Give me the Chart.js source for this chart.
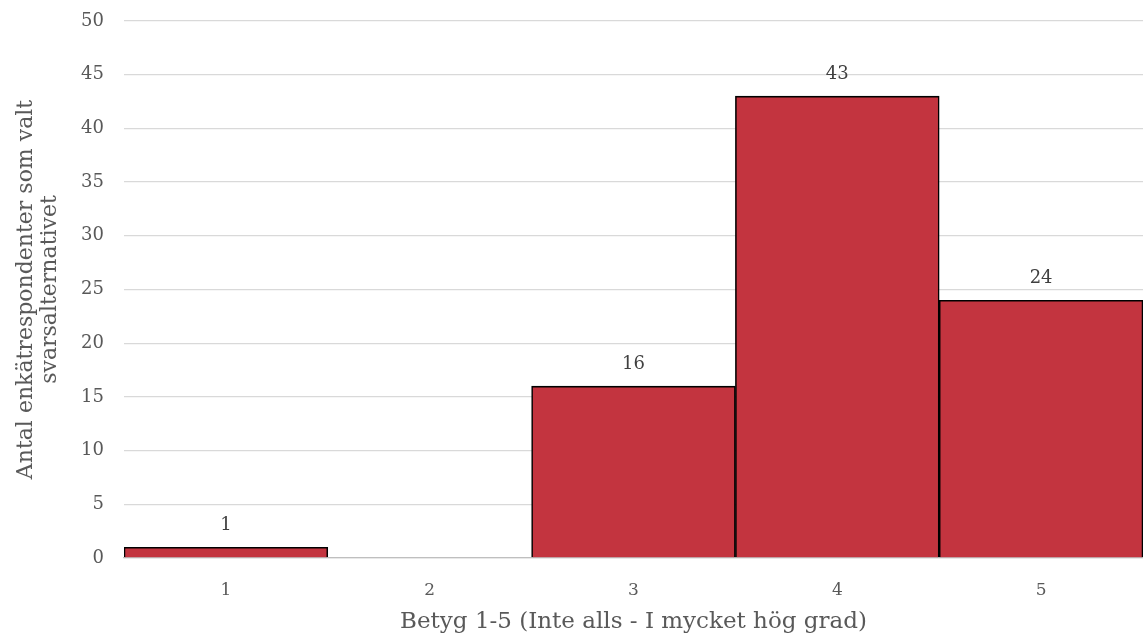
<!DOCTYPE html>
<html>
<head>
<meta charset="utf-8">
<script src="https://cdn.jsdelivr.net/npm/chart.js@4.4.1/dist/chart.umd.min.js"></script>
<style>
  html, body { margin: 0; padding: 0; background: #fff; }
  #wrap { width: 1143px; height: 641px; position: relative; }
</style>
</head>
<body>
<div id="wrap"><canvas id="gradeChart"></canvas></div>
<script>
// Survey answers per grade (1-5)
const grades = ['1', '2', '3', '4', '5'];
const counts = [1, 0, 16, 43, 24];
const yTicks = { min: 0, max: 50, step: 5 };

const FONT = "'DejaVu Serif', Georgia, serif";
const TEXT = '#595959';

// draws the count above each bar (empty bars get no label)
const barLabels = {
  id: 'barLabels',
  afterDatasetsDraw(chart) {
    const ctx = chart.ctx;
    const meta = chart.getDatasetMeta(0);
    ctx.save();
    ctx.font = '18px ' + FONT;
    ctx.fillStyle = '#404040';
    ctx.textAlign = 'center';
    ctx.textBaseline = 'middle';
    meta.data.forEach((bar, i) => {
      const v = counts[i];
      if (!v) return;
      ctx.fillText(String(v), bar.x, bar.y - 22);
    });
    ctx.restore();
  }
};

new Chart(document.getElementById('gradeChart'), {
  type: 'bar',
  data: {
    labels: grades,
    datasets: [{
      data: counts,
      backgroundColor: '#C3343F',
      borderColor: '#000000',
      borderWidth: 1.6,
      barPercentage: 1,
      categoryPercentage: 1
    }]
  },
  options: {
    responsive: true,
    maintainAspectRatio: false,
    animation: false,
    layout: { padding: { left: 14, top: 21, right: 0, bottom: 5 } },
    plugins: {
      legend: { display: false },
      tooltip: { enabled: false }
    },
    scales: {
      x: {
        afterFit: s => { s.height = 78; },
        grid: { display: false, drawTicks: false },
        border: { color: '#bfbfbf', width: 1.3 },
        ticks: { color: TEXT, font: { family: FONT, size: 17 }, padding: 22 },
        title: {
          display: true,
          text: 'Betyg 1-5 (Inte alls - I mycket hög grad)',
          color: TEXT,
          font: { family: FONT, size: 23 },
          padding: { top: 4, bottom: 0 }
        }
      },
      y: {
        min: yTicks.min,
        max: yTicks.max,
        afterFit: s => { s.width = 110; },
        grid: { color: '#d9d9d9', lineWidth: 1.3, drawTicks: true, tickLength: 18, tickColor: 'rgba(0,0,0,0)' },
        border: { display: false },
        ticks: {
          stepSize: yTicks.step,
          color: TEXT,
          font: { family: FONT, size: 18 },
          padding: 2
        },
        title: {
          display: true,
          text: ['Antal enkätrespondenter som valt', 'svarsalternativet'],
          color: TEXT,
          font: { family: FONT, size: 22, lineHeight: 1.1 },
          padding: { top: 0, bottom: 8 }
        }
      }
    }
  },
  plugins: [barLabels]
});
</script>
</body>
</html>
